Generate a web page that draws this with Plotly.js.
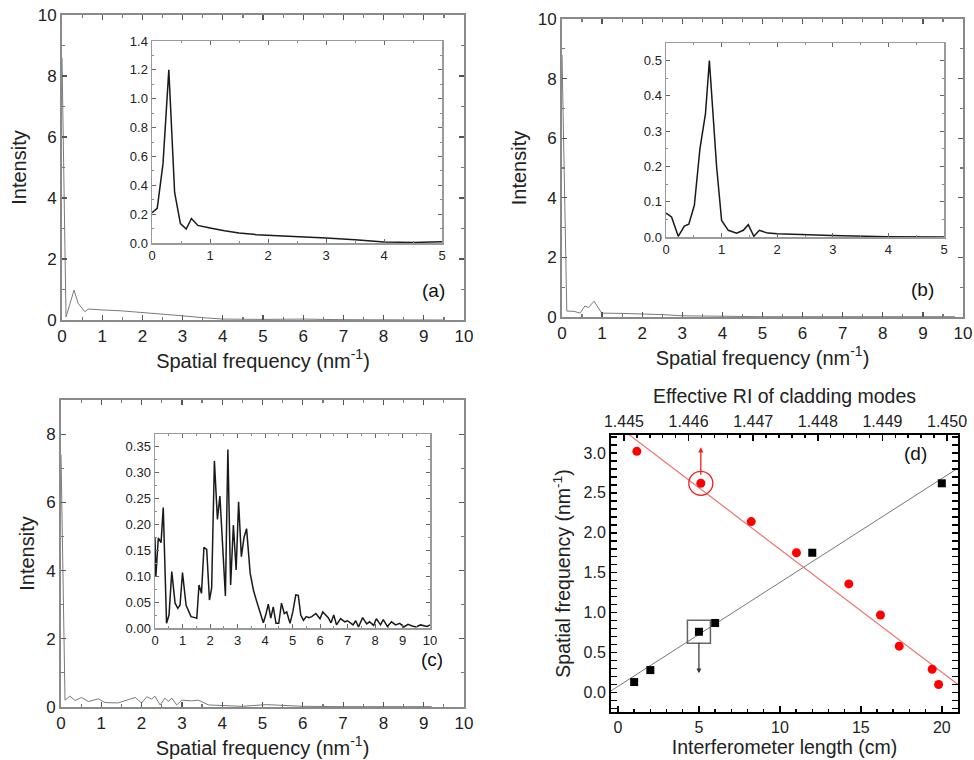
<!DOCTYPE html>
<html>
<head>
<meta charset="utf-8">
<script src="https://cdn.plot.ly/plotly-3.0.1.min.js"></script>
<style>html,body{margin:0;padding:0;background:#fff;}#chart{width:974px;height:760px;}</style>
</head>
<body>
<div id="chart"></div>
<script>
// ---------- Data ----------
// (a) main spectrum
const aMainX = [0, 0.1, 0.19, 0.3, 0.4, 0.57, 0.65, 0.8, 1.0, 1.48, 2.0, 2.3, 2.97, 3.47, 3.8, 4.0, 5.0, 6.0, 7.0, 8.0, 9.0, 9.5];
const aMainY = [8.6, 0.1, 0.5, 0.98, 0.55, 0.27, 0.36, 0.34, 0.33, 0.3, 0.25, 0.22, 0.14, 0.08, 0.04, 0.03, 0.02, 0.03, 0.01, 0.01, 0.01, 0.0];
// (a) inset
const aInsX = [0, 0.09, 0.19, 0.29, 0.39, 0.49, 0.59, 0.68, 0.79, 0.9, 1.0, 1.25, 1.5, 1.8, 2.0, 2.5, 3.0, 3.5, 4.0, 4.5, 5.0];
const aInsY = [0.21, 0.24, 0.55, 1.20, 0.35, 0.135, 0.097, 0.17, 0.122, 0.11, 0.104, 0.085, 0.07, 0.058, 0.055, 0.045, 0.035, 0.022, 0.007, 0.004, 0.008];
// (b) main spectrum
const bMainX = [0, 0.12, 0.3, 0.45, 0.57, 0.66, 0.8, 0.99, 1.5, 2.0, 2.5, 3.0, 4.0, 5.0, 6.0, 7.0, 8.0, 9.0, 9.8];
const bMainY = [8.8, 0.2, 0.19, 0.13, 0.37, 0.32, 0.53, 0.13, 0.12, 0.11, 0.08, 0.04, 0.02, 0.01, 0.01, 0.01, 0.01, 0.01, 0.01];
// (b) inset
const bInsX = [0, 0.1, 0.22, 0.33, 0.41, 0.51, 0.61, 0.71, 0.78, 0.91, 1.0, 1.12, 1.27, 1.39, 1.48, 1.58, 1.68, 1.83, 2.01, 2.49, 2.97, 3.98, 5.0];
const bInsY = [0.068, 0.057, 0.002, 0.031, 0.036, 0.09, 0.25, 0.35, 0.50, 0.2, 0.047, 0.019, 0.011, 0.019, 0.035, 0.002, 0.019, 0.011, 0.009, 0.006, 0.004, 0.001, 0.0];
// (c) main spectrum
const cMainX = [0, 0.1, 0.22, 0.35, 0.51, 0.68, 0.93, 1.09, 1.42, 1.84, 2.0, 2.13, 2.25, 2.33, 2.46, 2.58, 2.66, 2.75, 2.87, 3.0, 3.24, 3.41, 3.66, 3.99, 4.5, 5.1, 6.0, 7.0, 8.0, 9.2];
const cMainY = [7.4, 0.2, 0.32, 0.19, 0.28, 0.16, 0.24, 0.13, 0.12, 0.28, 0.12, 0.3, 0.23, 0.32, 0.06, 0.26, 0.16, 0.26, 0.06, 0.2, 0.18, 0.2, 0.06, 0.04, 0.02, 0.07, 0.02, 0.01, 0.01, 0.01];
// (c) inset
const cInsX = [0, 0.03, 0.12, 0.22, 0.3, 0.42, 0.51, 0.61, 0.73, 0.83, 0.91, 1.0, 1.13, 1.31, 1.45, 1.52, 1.6, 1.69, 1.78, 1.88, 1.98, 2.06, 2.16, 2.27, 2.36, 2.46, 2.56, 2.65, 2.75, 2.85, 2.95, 3.04, 3.14, 3.24, 3.33, 3.46, 3.58, 3.7, 3.82, 3.94, 4.04, 4.12, 4.21, 4.3, 4.4, 4.5, 4.6, 4.7, 4.79, 4.91, 5.01, 5.12, 5.21, 5.3, 5.4, 5.5, 5.6, 5.7, 5.85, 6.0, 6.1, 6.3, 6.4, 6.5, 6.6, 6.75, 6.9, 7.0, 7.2, 7.3, 7.4, 7.55, 7.7, 7.8, 7.95, 8.05, 8.2, 8.3, 8.45, 8.6, 8.75, 8.9, 9.05, 9.2, 9.35, 9.5, 9.65, 9.8, 9.9, 10.0];
const cInsY = [0.174, 0.099, 0.174, 0.165, 0.233, 0.009, 0.025, 0.109, 0.048, 0.038, 0.044, 0.107, 0.044, 0.022, 0.02, 0.019, 0.083, 0.067, 0.156, 0.152, 0.054, 0.077, 0.323, 0.21, 0.255, 0.157, 0.062, 0.345, 0.083, 0.199, 0.112, 0.244, 0.138, 0.176, 0.192, 0.106, 0.073, 0.051, 0.031, 0.010, 0.028, 0.046, 0.019, 0.041, 0.009, 0.009, 0.048, 0.028, 0.031, 0.009, 0.031, 0.064, 0.063, 0.025, 0.015, 0.022, 0.02, 0.022, 0.028, 0.018, 0.031, 0.02, 0.01, 0.025, 0.006, 0.018, 0.012, 0.014, 0.006, 0.014, 0.002, 0.02, 0.008, 0.012, 0.005, 0.018, 0.006, 0.016, 0.003, 0.012, 0.006, 0.009, 0.002, 0.007, 0.004, 0.002, 0.006, 0.005, 0.003, 0.006];
// (d) spatial frequency vs interferometer length (black squares)
const dLenX = [1, 2, 5, 6, 12, 20];
const dLenY = [0.13, 0.28, 0.76, 0.87, 1.75, 2.62];
const dLenFitX = [-0.43, 21.0];
const dLenFitY = [0.02, 2.81];
// (d) spatial frequency vs effective RI (red circles)
const dRIX = [1.44520, 1.44619, 1.44697, 1.44767, 1.44848, 1.44897, 1.44926, 1.44977, 1.44987];
const dRIY = [3.02, 2.62, 2.14, 1.75, 1.36, 0.97, 0.58, 0.29, 0.10];
const dRIFitX = [1.4449, 1.4502];
const dRIFitY = [3.34, 0.08];
const dHighlightLen = [5];  const dHighlightLenY = [0.76];
const dHighlightRI = [1.44619]; const dHighlightRIY = [2.62];

// ---------- Layout helpers ----------
const W = 974, H = 760;
const dx = (l, r) => [l / W, r / W];
const dy = (t, b) => [1 - b / H, 1 - t / H];
const FONT = 'Liberation Sans, Arial, sans-serif';
const grayLine = '#8a8a8a';

function mainAxis(domain, anchor, range, dtick, minor, extra) {
  return Object.assign({
    domain: domain, anchor: anchor, range: range, dtick: dtick, tick0: 0,
    showline: true, linecolor: grayLine, linewidth: 2, mirror: 'allticks',
    ticks: 'inside', ticklen: 5, tickwidth: 1.2, tickcolor: '#555',
    minor: {dtick: minor, ticks: 'inside', ticklen: 3, tickcolor: '#777'},
    showgrid: false, zeroline: false,
    tickfont: {family: FONT, size: 17, color: '#222'}
  }, extra || {});
}
function insetAxis(domain, anchor, range, dtick, minor, extra) {
  return Object.assign({
    domain: domain, anchor: anchor, range: range, dtick: dtick, tick0: 0,
    showline: true, linecolor: '#9a9a9a', linewidth: 1.5, mirror: 'allticks',
    ticks: 'inside', ticklen: 4, tickwidth: 1, tickcolor: '#666',
    minor: {dtick: minor, ticks: 'inside', ticklen: 2, tickcolor: '#888'},
    showgrid: false, zeroline: false,
    tickfont: {family: FONT, size: 13, color: '#222'}
  }, extra || {});
}
const xTitle = {text: 'Spatial frequency (nm<sup>-1</sup>)', font: {family: FONT, size: 20, color: '#222'}, standoff: 3};
const yTitle = {text: 'Intensity', font: {family: FONT, size: 20, color: '#222'}, standoff: 6};

const mainLine = {color: '#7a7a7a', width: 1};
const insLine = {color: '#1a1a1a', width: 1.5};

const traces = [
  {x: aMainX, y: aMainY, xaxis: 'x', yaxis: 'y', mode: 'lines', line: mainLine},
  {x: aInsX, y: aInsY, xaxis: 'x2', yaxis: 'y2', mode: 'lines', line: insLine},
  {x: bMainX, y: bMainY, xaxis: 'x3', yaxis: 'y3', mode: 'lines', line: mainLine},
  {x: bInsX, y: bInsY, xaxis: 'x4', yaxis: 'y4', mode: 'lines', line: insLine},
  {x: cMainX, y: cMainY, xaxis: 'x5', yaxis: 'y5', mode: 'lines', line: mainLine},
  {x: cInsX, y: cInsY, xaxis: 'x6', yaxis: 'y6', mode: 'lines', line: insLine},
  {x: dLenFitX, y: dLenFitY, xaxis: 'x7', yaxis: 'y7', mode: 'lines', line: {color: '#777', width: 1}},
  {x: dRIFitX, y: dRIFitY, xaxis: 'x8', yaxis: 'y7', mode: 'lines', line: {color: '#f07070', width: 1.2}},
  {x: dLenX, y: dLenY, xaxis: 'x7', yaxis: 'y7', mode: 'markers', marker: {symbol: 'square', size: 8, color: '#000'}},
  {x: dRIX, y: dRIY, xaxis: 'x8', yaxis: 'y7', mode: 'markers', marker: {symbol: 'circle', size: 9, color: '#ff0000'}},
  {x: dHighlightLen, y: dHighlightLenY, xaxis: 'x7', yaxis: 'y7', mode: 'markers', marker: {symbol: 'square-open', size: 23, color: '#666', line: {width: 1.5, color: '#666'}}},
  {x: dHighlightRI, y: dHighlightRIY, xaxis: 'x8', yaxis: 'y7', mode: 'markers', marker: {symbol: 'circle-open', size: 24, color: '#ee2020', line: {width: 1.3, color: '#ee2020'}}}
];

const dTick = {family: FONT, size: 16, color: '#222'};
const dAxisBase = {showline: true, linecolor: '#000', linewidth: 2, ticks: 'inside', ticklen: 6, tickwidth: 1.5, tickcolor: '#000', showgrid: false, zeroline: false, tickfont: dTick};

const layout = {
  width: W, height: H, margin: {l: 0, r: 0, t: 0, b: 0},
  paper_bgcolor: '#fff', plot_bgcolor: 'rgba(0,0,0,0)', showlegend: false,
  font: {family: FONT},
  xaxis: mainAxis(dx(62, 464), 'y', [0, 10], 1, 0.5, {title: xTitle}),
  yaxis: mainAxis(dy(15, 320), 'x', [0, 10], 2, 1, {title: yTitle}),
  xaxis2: insetAxis(dx(152, 442), 'y2', [0, 5], 1, 0.5),
  yaxis2: insetAxis(dy(41, 243), 'x2', [0, 1.4], 0.2, 0.1, {tickformat: '.1f'}),
  xaxis3: mainAxis(dx(562, 963), 'y3', [0, 10], 1, 0.5, {title: xTitle}),
  yaxis3: mainAxis(dy(19, 317), 'x3', [0, 10], 2, 1, {title: yTitle}),
  xaxis4: insetAxis(dx(666, 944), 'y4', [0, 5], 1, 0.5),
  yaxis4: insetAxis(dy(43, 237), 'x4', [0, 0.55], 0.1, 0.05, {tickformat: '.1f'}),
  xaxis5: mainAxis(dx(61, 464), 'y5', [0, 10], 1, 0.5, {title: xTitle}),
  yaxis5: mainAxis(dy(400, 707), 'x5', [0, 9], 2, 1, {title: yTitle}),
  xaxis6: insetAxis(dx(155, 430), 'y6', [0, 10], 1, 0.5),
  yaxis6: insetAxis(dy(434, 628), 'x6', [0, 0.375], 0.05, 0.025, {tickformat: '.2f'}),
  xaxis7: Object.assign({}, dAxisBase, {domain: dx(611, 958), anchor: 'y7', range: [-0.43, 21.0], dtick: 5, tick0: 0,
    minor: {dtick: 1, ticks: 'inside', ticklen: 3, tickcolor: '#000'},
    title: {text: 'Interferometer length (cm)', font: {family: FONT, size: 19.5, color: '#222'}, standoff: 2}}),
  xaxis8: Object.assign({}, dAxisBase, {overlaying: 'x7', anchor: 'y7', side: 'top', range: [1.4448, 1.45017], dtick: 0.001, tick0: 1.445, tickformat: '.3f',
    minor: {dtick: 0.0002, ticks: 'inside', ticklen: 3, tickcolor: '#000'},
    title: {text: 'Effective RI of cladding modes', font: {family: FONT, size: 19.5, color: '#222'}, standoff: 4}}),
  yaxis7: Object.assign({}, dAxisBase, {domain: dy(435, 712), anchor: 'x7', range: [-0.245, 3.225], dtick: 0.5, tick0: 0, tickformat: '.1f', mirror: 'allticks',
    minor: {dtick: 0.1, ticks: 'inside', ticklen: 3, tickcolor: '#000'},
    title: {text: 'Spatial frequency (nm<sup>-1</sup>)', font: {family: FONT, size: 19.5, color: '#222'}, standoff: 8}}),
  annotations: [
    {text: '(a)', xref: 'paper', yref: 'paper', x: 433 / W, y: 1 - 290 / H, showarrow: false, font: {family: FONT, size: 19, color: '#111'}},
    {text: '(b)', xref: 'paper', yref: 'paper', x: 936 / W, y: 1 - 289 / H, showarrow: false, font: {family: FONT, size: 19, color: '#111'}},
    {text: '(c)', xref: 'paper', yref: 'paper', x: 432 / W, y: 1 - 672 / H, showarrow: false, font: {family: FONT, size: 19, color: '#111'}},
    {text: '(d)', xref: 'paper', yref: 'paper', x: 929 / W, y: 1 - 453 / H, showarrow: false, font: {family: FONT, size: 19, color: '#111'}},
    {text: '', xref: 'x8', yref: 'y7', x: dHighlightRI[0], y: 3.07, ax: 0, ay: 29, showarrow: true, arrowhead: 2, arrowsize: 0.8, arrowwidth: 1.3, arrowcolor: '#ee2020'},
    {text: '', xref: 'x7', yref: 'y7', x: dHighlightLen[0], y: 0.24, ax: 0, ay: -32, showarrow: true, arrowhead: 2, arrowsize: 0.8, arrowwidth: 1.2, arrowcolor: '#333'}
  ]
};

Plotly.newPlot('chart', traces, layout, {displayModeBar: false, staticPlot: true});
</script>
</body>
</html>
